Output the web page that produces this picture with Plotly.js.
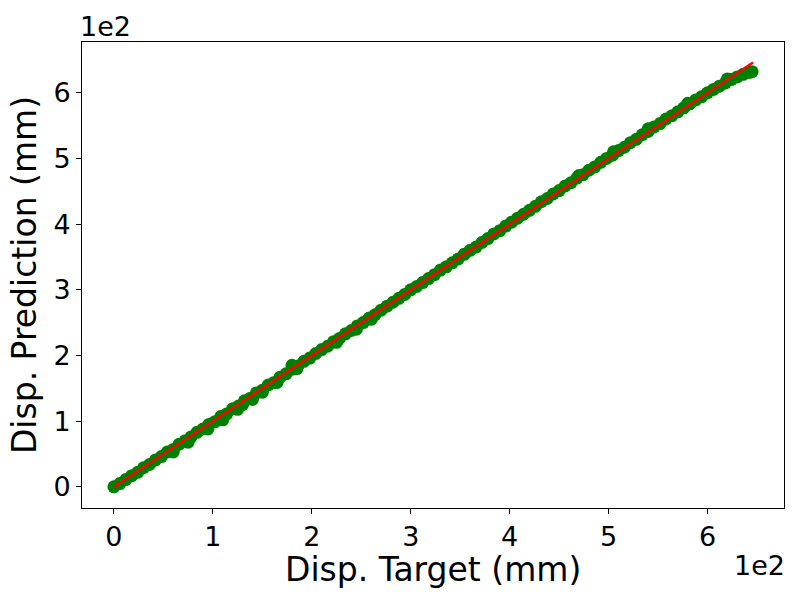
<!DOCTYPE html>
<html>
<head>
<meta charset="utf-8">
<script src="https://cdn.plot.ly/plotly-3.0.1.min.js"></script>
<style>
  html, body { margin: 0; padding: 0; background: #fff; }
  #chart { width: 800px; height: 600px; }
</style>
</head>
<body>
<div id="chart"></div>
<script>
// displacement target vs prediction (mm)
const target = [0, 6, 12, 18, 24, 30, 36, 42, 48, 54, 60, 66, 72, 78, 84, 90, 96, 102, 108, 114,
  120, 126, 132, 138, 144, 150, 156, 162, 168, 174, 180, 186, 192, 198, 204, 210, 216, 222, 228, 234,
  240, 246, 252, 258, 264, 270, 276, 282, 288, 294, 300, 306, 312, 318, 324, 330, 336, 342, 348, 354,
  360, 366, 372, 378, 384, 390, 396, 402, 408, 414, 420, 426, 432, 438, 444, 450, 456, 462, 468, 474,
  480, 486, 492, 498, 504, 510, 516, 522, 528, 534, 540, 546, 552, 558, 564, 570, 576, 582, 588, 594,
  600, 606, 612, 618, 624, 630, 636, 642, 645];
const prediction = [0, 5, 11, 17, 22, 29, 34, 41, 46, 53, 57, 65, 70, 76, 83, 88, 95, 99, 107, 111,
  119, 123, 131, 135, 143, 147, 155, 159, 167, 172, 179, 184, 191, 196, 203, 209, 214, 221, 226, 233,
  238, 245, 250, 257, 262, 269, 275, 281, 287, 293, 300, 305, 311, 317, 323, 330, 335, 341, 347, 354,
  360, 365, 372, 378, 385, 390, 397, 403, 409, 415, 421, 427, 434, 439, 446, 451, 458, 463, 470, 475,
  482, 487, 494, 500, 505, 512, 517, 524, 529, 536, 541, 548, 553, 560, 565, 571, 577, 583, 589, 594,
  600, 605, 610, 615, 620, 624, 628, 631, 632];
// points that stray from the main band
const strayTarget = [60, 75, 95, 110, 125, 130, 140, 150, 165, 185, 225, 245, 260, 180, 470, 505, 540, 580, 620];
const strayPred = [53, 68, 88, 102, 118, 125, 133, 144, 159, 180, 220, 240, 255, 185, 474, 510, 545, 584, 621];
// ideal y = x reference line
const idealX = [0, 646];
const idealY = [0, 646];

const tickVals = [0, 100, 200, 300, 400, 500, 600];
const tickText = ['0', '1', '2', '3', '4', '5', '6'];

const font = 'DejaVu Sans, sans-serif';

const data = [
  {
    x: target.concat(strayTarget),
    y: prediction.concat(strayPred),
    type: 'scatter',
    mode: 'markers',
    marker: { color: '#008000', size: 13 },
    hoverinfo: 'x+y'
  },
  {
    x: idealX,
    y: idealY,
    type: 'scatter',
    mode: 'lines',
    line: { color: '#ff0000', width: 2.5 }
  }
];

const axisBase = {
  range: [-32.25, 677.25],
  tickvals: tickVals,
  ticktext: tickText,
  ticks: 'outside',
  ticklen: 5,
  tickwidth: 1,
  tickcolor: '#000',
  showline: true,
  linecolor: '#000',
  linewidth: 1,
  mirror: true,
  showgrid: false,
  zeroline: false,
  tickfont: { family: font, size: 27, color: '#000' }
};

const layout = {
  width: 800,
  height: 600,
  showlegend: false,
  paper_bgcolor: '#fff',
  plot_bgcolor: '#fff',
  margin: { l: 82, r: 16, t: 42, b: 92 },
  xaxis: Object.assign({}, axisBase),
  yaxis: Object.assign({}, axisBase, {
    title: { text: 'Disp. Prediction (mm)', font: { family: font, size: 33, color: '#000' }, standoff: 6 }
  }),
  annotations: [
    // x axis title, placed by hand to sit where matplotlib puts it
    { text: 'Disp. Target (mm)', xref: 'paper', yref: 'paper', x: 0.5, y: 0, xanchor: 'center', yanchor: 'top',
      yshift: -41, borderpad: 0, showarrow: false, font: { family: font, size: 33, color: '#000' } },
    { text: '1e2', xref: 'paper', yref: 'paper', x: 0, y: 1, xanchor: 'left', yanchor: 'bottom',
      xshift: -4, yshift: -2, showarrow: false, font: { family: font, size: 27, color: '#000' } },
    { text: '1e2', xref: 'paper', yref: 'paper', x: 1, y: 0, xanchor: 'right', yanchor: 'top',
      xshift: 3, yshift: -40, showarrow: false, font: { family: font, size: 27, color: '#000' } }
  ]
};

Plotly.newPlot('chart', data, layout, { displayModeBar: false, staticPlot: true });
</script>
</body>
</html>
